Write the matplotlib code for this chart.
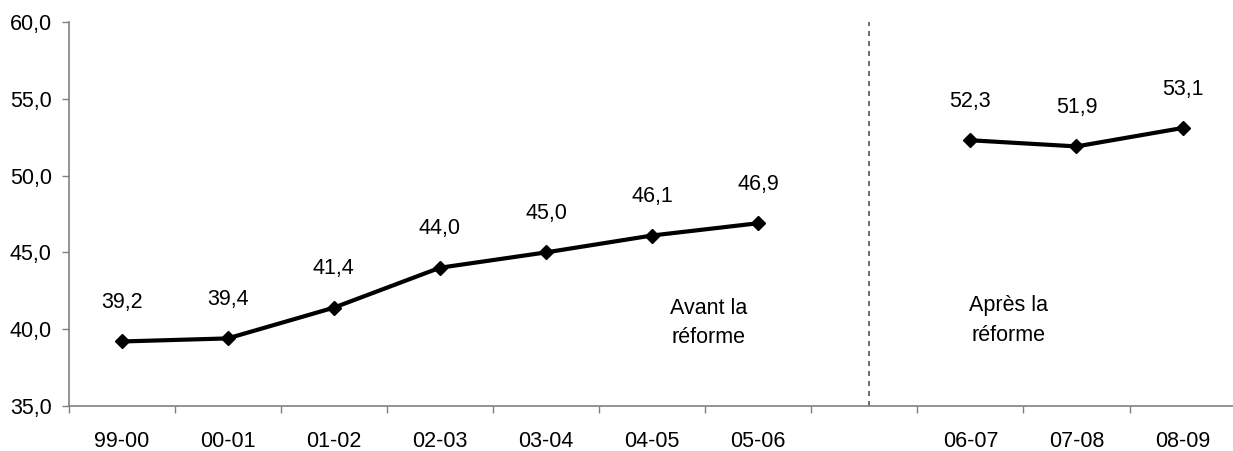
import numpy as np
import matplotlib
matplotlib.use("Agg")
import matplotlib.pyplot as plt
from matplotlib.ticker import FixedLocator, FuncFormatter

plt.rcParams['font.family'] = ['Liberation Sans', 'DejaVu Sans']

categories = ['99-00', '00-01', '01-02', '02-03', '03-04', '04-05', '05-06', '',
              '06-07', '07-08', '08-09']
values = [39.2, 39.4, 41.4, 44.0, 45.0, 46.1, 46.9, np.nan, 52.3, 51.9, 53.1]
yticks = [35, 40, 45, 50, 55, 60]
note_before = "Avant la\nréforme"
note_after = "Après la\nréforme"

FS = 15.5

fig = plt.figure(figsize=(12.33, 4.51), dpi=100)
ax = fig.add_axes([68.5 / 1233, 45 / 451, 1 - 68.5 / 1233, 384 / 451])

x = np.arange(len(categories))
y = np.array(values, dtype=float)
ax.plot(x, y, color='black', lw=3.0, marker='D', ms=7.2, mfc='black', mec='black',
        solid_joinstyle='miter')

for xi, yi in zip(x, y):
    if np.isnan(yi):
        continue
    ax.annotate(f"{yi:.1f}".replace('.', ','), (xi, yi), xytext=(0, 28),
                textcoords='offset points', ha='center', va='center', fontsize=FS)

sep = categories.index('')
ax.axvline(sep + 0.04, color='#555555', lw=1.2, ls=(0, (3, 3)))

ax.text(5.53, 40.4, note_before, ha='center', va='center', fontsize=FS, linespacing=1.55)
ax.text(8.36, 40.55, note_after, ha='center', va='center', fontsize=FS, linespacing=1.55)

ax.set_xlim(-0.5, 10.475)
ax.set_ylim(35, 60)
ax.set_yticks(yticks)
ax.yaxis.set_major_formatter(FuncFormatter(lambda v, p: f"{v:.1f}".replace('.', ',')))

ax.set_xticks(x)
ax.set_xticklabels(categories)
ax.xaxis.set_minor_locator(FixedLocator(np.arange(-0.5, len(categories), 1.0)))
ax.tick_params(axis='x', which='major', length=0, pad=18, labelsize=FS)
ax.tick_params(axis='x', which='minor', length=5, width=1, color='#808080', direction='out')
ax.tick_params(axis='y', which='major', length=5, width=1, color='#808080', pad=7, labelsize=FS)

for s in ['top', 'right']:
    ax.spines[s].set_visible(False)
for s in ['left', 'bottom']:
    ax.spines[s].set_color('#808080')
    ax.spines[s].set_linewidth(1.2)

fig.savefig('out.png', dpi=100)
